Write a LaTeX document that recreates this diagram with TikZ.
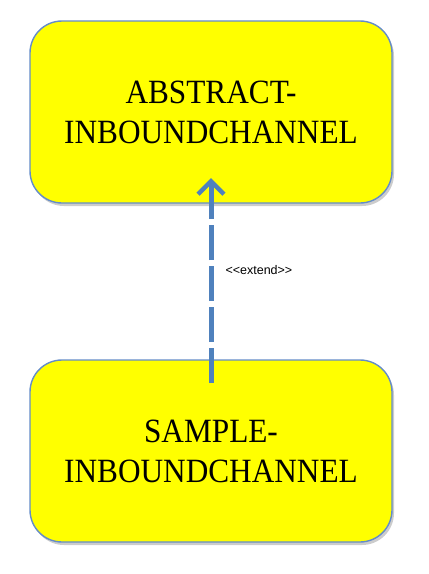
\documentclass[tikz,border=0pt]{standalone}
\usepackage{fontspec}
\setmainfont{Liberation Serif}[FakeStretch=0.92]
\newfontfamily\labelfont{Liberation Sans}
\usetikzlibrary{arrows.meta,shadows,calc}
\definecolor{boxyellow}{RGB}{255,255,0}
\definecolor{boxborder}{RGB}{100,140,200}
\definecolor{arrowblue}{RGB}{79,129,189}
\tikzset{
  classbox/.style={draw=boxborder, line width=1.4pt, fill=boxyellow, rounded corners=32pt,
    minimum width=362pt, minimum height=182pt, align=center, font=\fontsize{34}{40}\selectfont,
    drop shadow={shadow xshift=2pt, shadow yshift=-3pt, opacity=0.4}},
  extendarrow/.style={draw=arrowblue, line width=5pt, dash pattern=on 35pt off 6pt,
    -{Straight Barb[length=13pt,width=26pt,line width=4.5pt]}},
  lbl/.style={font=\labelfont\fontsize{12.5}{15}\selectfont, anchor=west}
}
\begin{document}
\begin{tikzpicture}[x=1pt,y=-1pt]
\useasboundingbox (0,0) rectangle (429,574);
\node[classbox] (abs) at (211,112) {ABSTRACT-\\INBOUNDCHANNEL};
\node[classbox] (smp) at (211,451) {SAMPLE-\\INBOUNDCHANNEL};
\coordinate (s) at (211,383);
\coordinate (t) at (211,178);
\draw[extendarrow] (s) -- (t);
\node[lbl] (ext) at (222,270) {<<extend>>};
\end{tikzpicture}
\end{document}
